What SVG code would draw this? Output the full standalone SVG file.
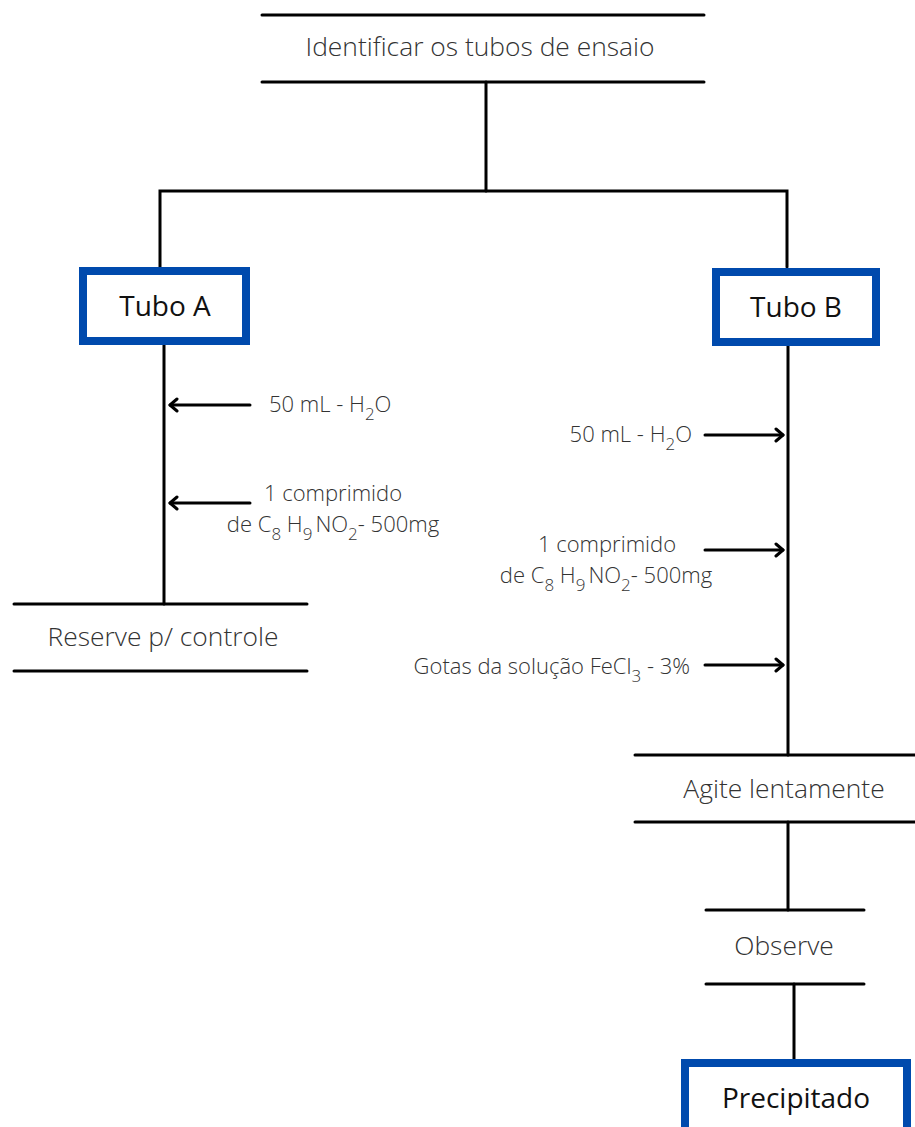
<svg xmlns="http://www.w3.org/2000/svg" width="915" height="1127" viewBox="0 0 915 1127">
<style>
.ln{stroke:#000;stroke-width:3;fill:none;stroke-linecap:round}
.box{fill:#fff;stroke:#004aad;stroke-width:8}
.t{font-family:"Open Sans","Liberation Sans",sans-serif;font-weight:300;fill:#333;font-size:26.4px}
.s{font-family:"Open Sans","Liberation Sans",sans-serif;font-weight:300;fill:#333;font-size:22px}
.b{font-family:"Open Sans","Liberation Sans",sans-serif;font-weight:400;fill:#111;font-size:28px}
.sub{font-size:17px}
</style>
<defs>
<marker id="ah" markerUnits="userSpaceOnUse" markerWidth="14" markerHeight="16" refX="10" refY="8" orient="auto">
<path d="M3,2 L10,8 L3,14" fill="none" stroke="#000" stroke-width="3" stroke-linecap="round" stroke-linejoin="round"/>
</marker>
</defs>
<g id="connectors">
<line class="ln" x1="486" y1="82" x2="486" y2="191"/>
<polyline class="ln" points="160,267 160,191 787,191 787,267"/>
<line class="ln" x1="164" y1="345" x2="164" y2="604"/>
<line class="ln" x1="788" y1="346" x2="788" y2="755"/>
<line class="ln" x1="788" y1="822" x2="788" y2="910"/>
<line class="ln" x1="794" y1="984" x2="794" y2="1059"/>
<line class="ln" x1="250" y1="405" x2="170" y2="405" marker-end="url(#ah)"/>
<line class="ln" x1="250" y1="503" x2="170" y2="503" marker-end="url(#ah)"/>
<line class="ln" x1="705" y1="435" x2="783" y2="435" marker-end="url(#ah)"/>
<line class="ln" x1="705" y1="550" x2="783" y2="550" marker-end="url(#ah)"/>
<line class="ln" x1="705" y1="665" x2="783" y2="665" marker-end="url(#ah)"/>
</g>
<g id="identificar">
<line class="ln" x1="262" y1="15" x2="704" y2="15"/>
<line class="ln" x1="262" y1="82" x2="704" y2="82"/>
<text class="t" x="480" y="56" text-anchor="middle">Identificar os tubos de ensaio</text>
</g>
<g id="tuboA">
<rect class="box" x="83" y="271" width="163" height="70"/>
<text class="b" x="165" y="316" text-anchor="middle">Tubo A</text>
</g>
<g id="tuboB">
<rect class="box" x="716" y="272" width="160" height="70"/>
<text class="b" x="796" y="317" text-anchor="middle">Tubo B</text>
</g>
<g id="labelA1">
<text class="s" x="269" y="412">50 mL - H<tspan class="sub" dy="8">2</tspan><tspan dy="-8">O</tspan></text>
</g>
<g id="labelA2">
<text class="s" x="333" y="501" text-anchor="middle">1 comprimido</text>
<text class="s" x="333" y="532" text-anchor="middle">de C<tspan class="sub" dy="8">8</tspan><tspan dy="-8"> H</tspan><tspan class="sub" dy="8">9</tspan><tspan dy="-8" dx="3">NO</tspan><tspan class="sub" dy="8">2</tspan><tspan dy="-8">- 500mg</tspan></text>
</g>
<g id="reserve">
<line class="ln" x1="14" y1="604" x2="307" y2="604"/>
<line class="ln" x1="14" y1="671" x2="307" y2="671"/>
<text class="t" x="163" y="646" text-anchor="middle">Reserve p/ controle</text>
</g>
<g id="labelB1">
<text class="s" x="692" y="442" text-anchor="end">50 mL - H<tspan class="sub" dy="8">2</tspan><tspan dy="-8">O</tspan></text>
</g>
<g id="labelB2">
<text class="s" x="607" y="552" text-anchor="middle">1 comprimido</text>
<text class="s" x="606" y="583" text-anchor="middle">de C<tspan class="sub" dy="8">8</tspan><tspan dy="-8"> H</tspan><tspan class="sub" dy="8">9</tspan><tspan dy="-8" dx="3">NO</tspan><tspan class="sub" dy="8">2</tspan><tspan dy="-8">- 500mg</tspan></text>
</g>
<g id="labelB3">
<text class="s" x="690" y="674" text-anchor="end">Gotas da solução FeCl<tspan class="sub" dy="8">3</tspan><tspan dy="-8"> - 3%</tspan></text>
</g>
<g id="agite">
<line class="ln" x1="635" y1="755" x2="915" y2="755"/>
<line class="ln" x1="635" y1="822" x2="915" y2="822"/>
<text class="t" x="784" y="798" text-anchor="middle">Agite lentamente</text>
</g>
<g id="observe">
<line class="ln" x1="706" y1="910" x2="864" y2="910"/>
<line class="ln" x1="706" y1="984" x2="864" y2="984"/>
<text class="t" x="784" y="955" text-anchor="middle">Observe</text>
</g>
<g id="precipitado">
<rect class="box" x="685" y="1063" width="222" height="100"/>
<text class="b" x="796" y="1108" text-anchor="middle">Precipitado</text>
</g>
</svg>
